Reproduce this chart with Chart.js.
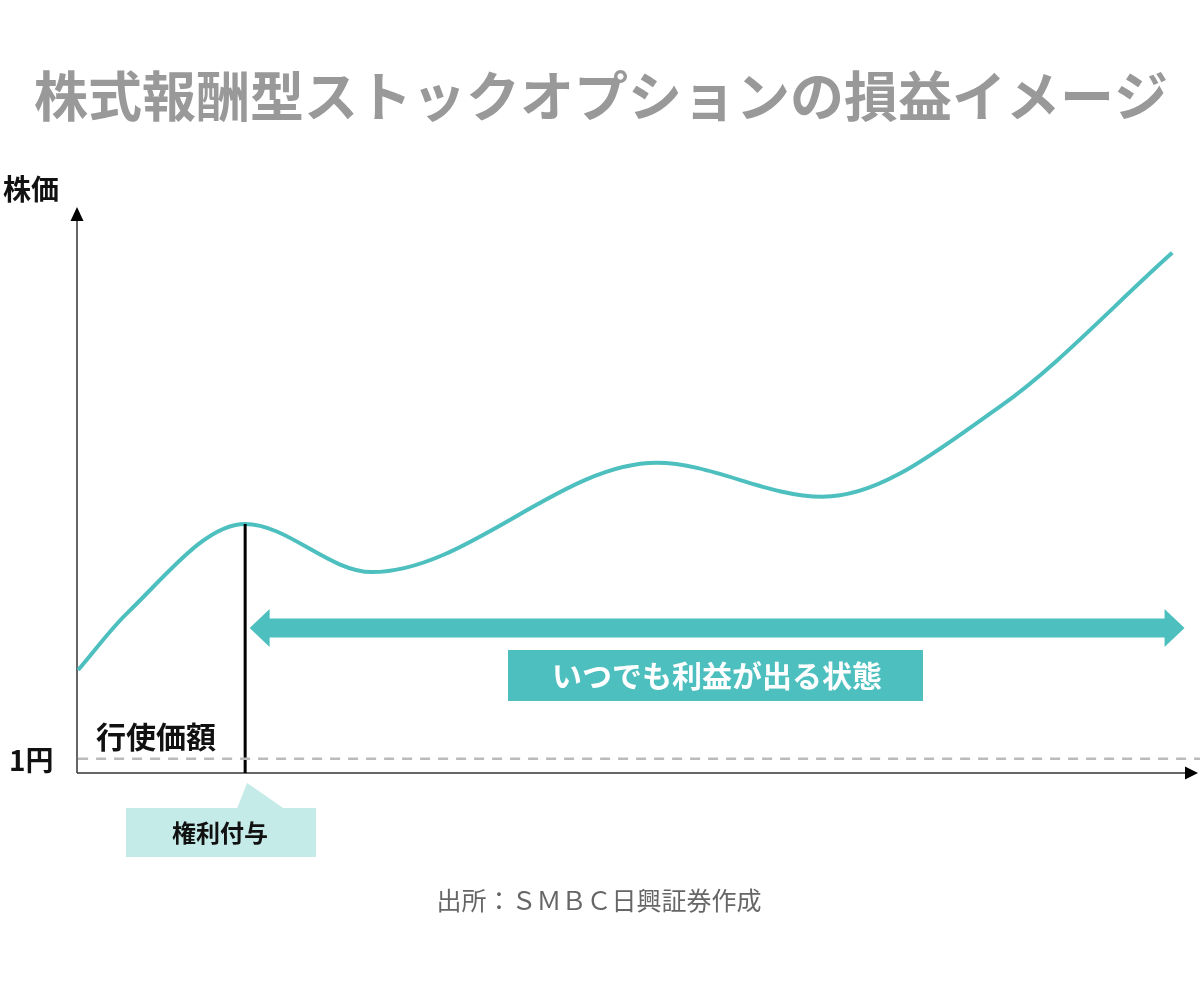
<!DOCTYPE html>
<html lang="ja">
<head>
<meta charset="utf-8">
<title>株式報酬型ストックオプションの損益イメージ</title>
<script src="https://cdn.jsdelivr.net/npm/chart.js@4/dist/chart.umd.min.js"></script>
<style>
  html, body { margin: 0; padding: 0; background: #fff; }
  #wrap { width: 1200px; height: 982px; }
</style>
</head>
<body>
<div id="wrap"><canvas id="myChart" width="1200" height="982"></canvas></div>
<script>
  // stock price path (x = time 0-100, y = price 0-100)
  // start, rise, peak, trough, peak, trough, then the final climb
  var timeValues  = [0.1, 4.5, 15.0, 26.3, 51.7, 66.5, 82.3, 97.7];
  var priceValues = [18.2, 28.3, 44.0, 35.5, 54.8, 48.8, 64.7, 91.9];

  // grant date and exercise price (1 yen)
  var grantTime = 15.0;
  var grantPrice = 44.0;
  var strikePrice = 2.5;
  // "always in profit" span
  var profitSpan = [15.4, 98.8];
  var profitLevel = 25.6;

  var teal = '#4dbfbf';
  var jp = '"Noto Sans CJK JP", "Noto Sans", sans-serif';

  var pricePoints = timeValues.map(function (t, i) { return { x: t, y: priceValues[i] }; });

  var overlay = {
    id: 'overlay',
    beforeDatasetsDraw: function (chart) {
      var ctx = chart.ctx;
      var a = chart.chartArea;
      ctx.save();
      ctx.strokeStyle = '#333';
      ctx.fillStyle = '#000';
      ctx.lineWidth = 1.5;
      // y axis
      ctx.beginPath();
      ctx.moveTo(a.left, a.bottom);
      ctx.lineTo(a.left, a.top + 12);
      ctx.stroke();
      ctx.beginPath();
      ctx.moveTo(a.left, a.top);
      ctx.lineTo(a.left - 6.5, a.top + 14);
      ctx.lineTo(a.left + 6.5, a.top + 14);
      ctx.closePath();
      ctx.fill();
      // x axis
      ctx.beginPath();
      ctx.moveTo(a.left, a.bottom);
      ctx.lineTo(a.right - 12, a.bottom);
      ctx.stroke();
      ctx.beginPath();
      ctx.moveTo(a.right, a.bottom);
      ctx.lineTo(a.right - 13, a.bottom - 6.5);
      ctx.lineTo(a.right - 13, a.bottom + 6.5);
      ctx.closePath();
      ctx.fill();
      ctx.restore();
    },
    afterDatasetsDraw: function (chart) {
      var ctx = chart.ctx;
      var xs = chart.scales.x;
      var ys = chart.scales.y;
      ctx.save();

      // double arrow
      var x1 = xs.getPixelForValue(profitSpan[0]);
      var x2 = xs.getPixelForValue(profitSpan[1]);
      var yc = ys.getPixelForValue(profitLevel);
      var sh = 9.5, hh = 19, hl = 20;
      ctx.fillStyle = teal;
      ctx.beginPath();
      ctx.moveTo(x1, yc);
      ctx.lineTo(x1 + hl, yc - hh);
      ctx.lineTo(x1 + hl, yc - sh);
      ctx.lineTo(x2 - hl, yc - sh);
      ctx.lineTo(x2 - hl, yc - hh);
      ctx.lineTo(x2, yc);
      ctx.lineTo(x2 - hl, yc + hh);
      ctx.lineTo(x2 - hl, yc + sh);
      ctx.lineTo(x1 + hl, yc + sh);
      ctx.lineTo(x1 + hl, yc + hh);
      ctx.closePath();
      ctx.fill();

      // profit label box
      ctx.fillRect(508, 650, 415, 51);
      ctx.fillStyle = '#fff';
      ctx.font = 'bold 30px ' + jp;
      ctx.textAlign = 'center';
      ctx.textBaseline = 'middle';
      ctx.fillText('いつでも利益が出る状態', 717, 676);

      // grant callout
      var gx = xs.getPixelForValue(grantTime);
      ctx.fillStyle = '#c4ebe8';
      ctx.beginPath();
      ctx.moveTo(gx - 8, 808);
      ctx.lineTo(gx + 2, 783);
      ctx.lineTo(gx + 38, 808);
      ctx.closePath();
      ctx.fill();
      ctx.fillRect(126, 808, 190, 49);
      ctx.fillStyle = '#111';
      ctx.font = 'bold 24px ' + jp;
      ctx.fillText('権利付与', 220, 833);

      // title
      ctx.fillStyle = '#999';
      ctx.font = 'bold 54px ' + jp;
      ctx.fillText('株式報酬型ストックオプションの損益イメージ', 601, 96);

      // axis labels
      ctx.fillStyle = '#111';
      ctx.textAlign = 'left';
      ctx.font = 'bold 28px ' + jp;
      ctx.fillText('株価', 3, 189);
      ctx.fillText('1円', 9, 760);
      ctx.font = 'bold 30px ' + jp;
      ctx.fillText('行使価額', 96, 737);

      // source
      ctx.fillStyle = '#666';
      ctx.textAlign = 'center';
      ctx.font = '25px ' + jp;
      ctx.fillText('出所：ＳＭＢＣ日興証券作成', 599, 900);
      ctx.restore();
    }
  };

  new Chart('myChart', {
    type: 'scatter',
    data: {
      datasets: [
        {
          label: '行使価額',
          data: [{ x: 0.1, y: strikePrice }, { x: 100.2, y: strikePrice }],
          showLine: true,
          borderColor: '#bbb',
          borderWidth: 2.5,
          borderDash: [10, 8],
          pointRadius: 0,
          clip: false
        },
        {
          label: '権利付与',
          data: [{ x: grantTime, y: grantPrice }, { x: grantTime, y: 0 }],
          showLine: true,
          borderColor: '#000',
          borderWidth: 3,
          pointRadius: 0,
          clip: false
        },
        {
          label: '株価',
          data: pricePoints,
          showLine: true,
          borderColor: teal,
          borderWidth: 4,
          cubicInterpolationMode: 'monotone',
          pointRadius: 0,
          clip: false
        }
      ]
    },
    options: {
      responsive: false,
      animation: false,
      devicePixelRatio: 1,
      layout: { padding: { left: 77, right: 2, top: 207, bottom: 209 } },
      plugins: {
        legend: { display: false },
        tooltip: { enabled: false }
      },
      scales: {
        x: { type: 'linear', min: 0, max: 100, display: false },
        y: { type: 'linear', min: 0, max: 100, display: false }
      }
    },
    plugins: [overlay]
  });
</script>
</body>
</html>
